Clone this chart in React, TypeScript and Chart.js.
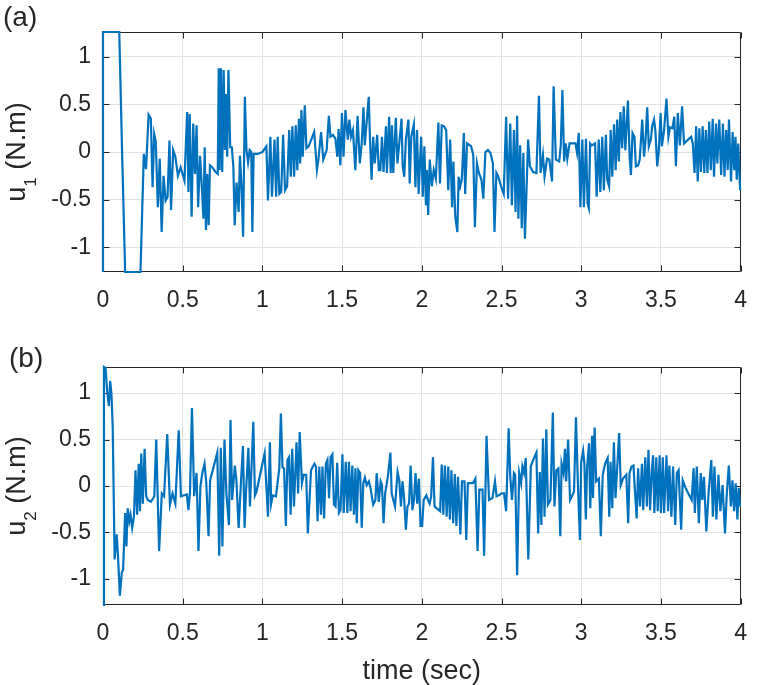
import React, { useEffect, useRef } from "react";
import { Chart, registerables } from "chart.js";

Chart.register(...registerables);

// control torque samples (time in s, torque in N.m)
const u1Time = [
  0, 0, 0.102, 0.119, 0.139, 0.235, 0.256, 0.27, 0.286, 0.3, 0.311, 0.321, 0.331, 0.344, 0.356, 0.368,
  0.38, 0.393, 0.405, 0.417, 0.427, 0.44, 0.454, 0.47, 0.487, 0.511, 0.528, 0.536, 0.544, 0.556, 0.566,
  0.577, 0.587, 0.597, 0.609, 0.62, 0.63, 0.638, 0.646, 0.654, 0.663, 0.671, 0.685, 0.706, 0.72, 0.726,
  0.732, 0.74, 0.748, 0.757, 0.765, 0.771, 0.779, 0.787, 0.798, 0.808, 0.818, 0.826, 0.838, 0.851, 0.859,
  0.869, 0.879, 0.89, 0.9, 0.91, 0.92, 0.93, 0.937, 0.945, 0.97, 1.0, 1.025, 1.035, 1.05, 1.06, 1.076,
  1.086, 1.096, 1.106, 1.118, 1.13, 1.142, 1.155, 1.168, 1.178, 1.188, 1.199, 1.209, 1.219, 1.229, 1.237,
  1.245, 1.253, 1.266, 1.276, 1.29, 1.325, 1.342, 1.352, 1.368, 1.382, 1.403, 1.417, 1.427, 1.443, 1.458,
  1.47, 1.478, 1.489, 1.499, 1.509, 1.521, 1.536, 1.546, 1.556, 1.568, 1.583, 1.597, 1.611, 1.623, 1.634,
  1.642, 1.667, 1.675, 1.685, 1.695, 1.705, 1.72, 1.73, 1.74, 1.75, 1.76, 1.775, 1.781, 1.795, 1.805,
  1.813, 1.821, 1.837, 1.847, 1.873, 1.88, 1.89, 1.9, 1.916, 1.924, 1.934, 1.95, 1.96, 1.97, 1.98, 1.996,
  2.006, 2.016, 2.026, 2.032, 2.04, 2.05, 2.063, 2.075, 2.088, 2.104, 2.114, 2.125, 2.139, 2.153, 2.166,
  2.178, 2.19, 2.198, 2.21, 2.223, 2.231, 2.241, 2.251, 2.264, 2.272, 2.284, 2.309, 2.323, 2.333, 2.346,
  2.358, 2.374, 2.386, 2.399, 2.415, 2.431, 2.446, 2.456, 2.468, 2.48, 2.497, 2.514, 2.529, 2.541, 2.555,
  2.565, 2.578, 2.588, 2.598, 2.606, 2.617, 2.627, 2.637, 2.647, 2.667, 2.678, 2.698, 2.719, 2.735, 2.745,
  2.76, 2.77, 2.786, 2.8, 2.817, 2.827, 2.841, 2.862, 2.872, 2.882, 2.893, 2.903, 2.913, 2.927, 2.964,
  2.974, 2.985, 2.995, 3.007, 3.017, 3.03, 3.04, 3.048, 3.056, 3.066, 3.087, 3.097, 3.11, 3.12, 3.132,
  3.142, 3.155, 3.163, 3.175, 3.185, 3.195, 3.206, 3.216, 3.226, 3.236, 3.246, 3.257, 3.267, 3.277, 3.293,
  3.304, 3.312, 3.322, 3.334, 3.343, 3.357, 3.367, 3.383, 3.394, 3.404, 3.414, 3.424, 3.437, 3.445, 3.457,
  3.465, 3.477, 3.486, 3.498, 3.506, 3.52, 3.535, 3.547, 3.557, 3.572, 3.584, 3.594, 3.606, 3.619, 3.633,
  3.645, 3.67, 3.69, 3.7, 3.711, 3.721, 3.731, 3.741, 3.751, 3.762, 3.772, 3.782, 3.792, 3.803, 3.813,
  3.825, 3.833, 3.846, 3.854, 3.866, 3.878, 3.889, 3.899, 3.909, 3.919, 3.927, 3.94, 3.95, 3.96, 3.968,
  3.976, 3.985, 3.997,
];
const u1Torque = [
  -1.26, 1.26, 1.26, 0.05, -1.26, -1.26, -0.02, -0.18, 0.39, 0.35, -0.37, 0.19, 0.11, -0.58, -0.07, -0.84,
  -0.25, -0.51, -0.47, 0.12, -0.61, 0.02, -0.05, -0.25, -0.16, -0.3, 0.42, -0.42, 0.4, -0.68, 0.3,
  -0.23, 0.28, -0.58, -0.04, -0.37, -0.7, 0.05, -0.82, -0.23, -0.77, -0.14, -0.16, -0.21, -0.23, 0.88,
  -0.19, 0.88, -0.21, 0.86, 0.02, 0.61, -0.05, 0.86, 0.05, 0.05, -0.16, -0.77, -0.32, -0.63, -0.04,
  -0.37, -0.89, 0.58, 0.02, -0.11, 0.02, 0.0, -0.84, -0.02, -0.02, 0.0, 0.06, -0.51, 0.16, -0.47, 0.13,
  -0.47, 0.16, -0.44, -0.42, 0.18, -0.4, -0.36, 0.23, -0.26, 0.27, -0.26, 0.28, -0.19, 0.35, -0.12,
  0.44, -0.05, 0.49, 0.04, 0.06, 0.21, -0.19, -0.07, 0.21, -0.08, 0.02, 0.38, 0.16, 0.18, 0.14,
  -0.05, 0.24, -0.14, 0.41, -0.05, 0.44, 0.13, 0.34, 0.16, 0.23, -0.19, 0.38, -0.12, 0.09, 0.47,
  0.07, 0.58, 0.13, -0.29, 0.16, -0.12, 0.18, -0.19, -0.19, 0.16, -0.21, 0.27, -0.22, 0.37, -0.22,
  0.28, -0.22, 0.36, -0.12, 0.35, -0.15, -0.26, 0.13, 0.34, -0.33, 0.16, 0.29, -0.37, 0.23, -0.44, 0.16,
  -0.47, 0.06, -0.56, -0.19, -0.66, -0.08, -0.36, -0.19, -0.28, 0.31, -0.33, 0.28, 0.27, 0.23, -0.4,
  0.13, -0.58, -0.1, -0.68, -0.84, -0.26, -0.36, -0.29, 0.2, -0.44, 0.09, 0.06, -0.03, -0.79, -0.12,
  -0.22, -0.29, -0.49, 0.0, 0.02, -0.01, -0.12, -0.84, -0.22, -0.26, -0.36, -0.44, 0.37, -0.49, 0.3,
  -0.56, 0.23, -0.63, 0.38, -0.7, 0.07, -0.8, -0.01, -0.91, 0.13, -0.15, -0.21, -0.22, 0.59, -0.22,
  -0.03, -0.26, -0.07, -0.08, -0.31, 0.69, -0.08, -0.1, 0.07, 0.65, -0.1, 0.09, -0.07, 0.09, 0.09,
  -0.01, 0.2, -0.58, 0.13, -0.58, 0.14, -0.54, -0.59, 0.09, 0.07, 0.09, -0.47, 0.13, -0.42, 0.16,
  -0.4, 0.18, -0.29, -0.36, 0.23, -0.26, 0.29, -0.19, 0.34, -0.1, 0.42, 0.04, 0.48, 0.02, 0.54,
  -0.05, -0.24, 0.2, 0.16, -0.15, -0.14, -0.08, 0.34, -0.05, 0.13, 0.47, 0.06, 0.13, 0.27, 0.34,
  0.23, -0.15, -0.01, 0.41, 0.06, 0.23, 0.56, 0.16, 0.26, 0.25, 0.37, -0.15, 0.41, 0.07, 0.48,
  0.09, 0.13, 0.16, 0.09, -0.22, 0.27, -0.31, 0.25, -0.21, 0.27, -0.22, 0.23, -0.22, 0.32, -0.19,
  0.35, -0.26, 0.3, -0.12, 0.34, -0.24, 0.3, -0.26, 0.23, -0.19, 0.34, -0.31, 0.21, -0.19, 0.16,
  -0.29, 0.09, -0.4,
];

const u2Time = [
  0, 0.006, 0.016, 0.026, 0.037, 0.045, 0.053, 0.061, 0.073, 0.086, 0.094, 0.106, 0.118, 0.126, 0.139,
  0.147, 0.155, 0.165, 0.173, 0.183, 0.194, 0.204, 0.214, 0.224, 0.232, 0.24, 0.25, 0.261, 0.271, 0.281,
  0.301, 0.322, 0.334, 0.352, 0.369, 0.383, 0.403, 0.42, 0.436, 0.454, 0.475, 0.489, 0.526, 0.536, 0.546,
  0.558, 0.572, 0.587, 0.599, 0.611, 0.623, 0.637, 0.648, 0.662, 0.672, 0.717, 0.729, 0.739, 0.749, 0.762,
  0.774, 0.79, 0.8, 0.81, 0.827, 0.837, 0.851, 0.866, 0.878, 0.888, 0.898, 0.912, 0.922, 0.943, 0.953,
  0.963, 1.014, 1.035, 1.047, 1.055, 1.065, 1.085, 1.106, 1.116, 1.126, 1.136, 1.147, 1.157, 1.167, 1.177,
  1.187, 1.198, 1.214, 1.224, 1.234, 1.248, 1.259, 1.275, 1.285, 1.305, 1.326, 1.336, 1.346, 1.357, 1.367,
  1.377, 1.387, 1.398, 1.408, 1.418, 1.428, 1.439, 1.449, 1.459, 1.469, 1.48, 1.49, 1.502, 1.51, 1.523,
  1.533, 1.543, 1.553, 1.564, 1.574, 1.584, 1.592, 1.602, 1.613, 1.623, 1.633, 1.643, 1.654, 1.668, 1.678,
  1.695, 1.709, 1.717, 1.73, 1.742, 1.75, 1.76, 1.77, 1.787, 1.803, 1.811, 1.824, 1.832, 1.848, 1.859,
  1.869, 1.879, 1.889, 1.9, 1.91, 1.92, 1.93, 1.941, 1.951, 1.961, 1.971, 1.982, 1.992, 2.002, 2.012,
  2.029, 2.039, 2.049, 2.059, 2.07, 2.08, 2.094, 2.115, 2.125, 2.135, 2.145, 2.156, 2.166, 2.176, 2.186,
  2.197, 2.207, 2.217, 2.227, 2.242, 2.252, 2.268, 2.279, 2.289, 2.32, 2.336, 2.35, 2.361, 2.381, 2.391,
  2.406, 2.422, 2.443, 2.459, 2.469, 2.484, 2.5, 2.516, 2.529, 2.545, 2.555, 2.566, 2.578, 2.586, 2.598,
  2.611, 2.623, 2.631, 2.641, 2.652, 2.668, 2.684, 2.699, 2.719, 2.73, 2.74, 2.75, 2.76, 2.77, 2.781,
  2.791, 2.807, 2.822, 2.832, 2.844, 2.857, 2.869, 2.877, 2.889, 2.898, 2.906, 2.918, 2.93, 2.945, 2.955,
  2.967, 2.98, 2.992, 3.0, 3.012, 3.02, 3.029, 3.037, 3.049, 3.057, 3.068, 3.074, 3.084, 3.094, 3.111,
  3.123, 3.135, 3.15, 3.166, 3.176, 3.184, 3.195, 3.205, 3.215, 3.238, 3.248, 3.262, 3.283, 3.295, 3.303,
  3.316, 3.328, 3.336, 3.348, 3.357, 3.369, 3.381, 3.389, 3.402, 3.412, 3.422, 3.432, 3.443, 3.451, 3.459,
  3.471, 3.48, 3.492, 3.5, 3.512, 3.52, 3.535, 3.545, 3.553, 3.566, 3.576, 3.59, 3.6, 3.611, 3.627,
  3.637, 3.652, 3.672, 3.693, 3.705, 3.713, 3.725, 3.738, 3.75, 3.76, 3.77, 3.785, 3.799, 3.816, 3.826,
  3.836, 3.848, 3.861, 3.873, 3.887, 3.902, 3.914, 3.926, 3.939, 3.949, 3.959, 3.969, 3.98, 3.988, 3.996,
];
const u2Torque = [
  -1.28, 1.28, 1.27, 1.02, 0.86, 1.13, 0.99, 0.63, -0.79, -0.52, -0.75, -1.18, -0.93, -0.9, -0.29,
  -0.65, -0.24, -0.38, -0.31, -0.45, -0.33, 0.17, -0.31, 0.24, -0.27, 0.35, -0.19, 0.4, -0.11, -0.15,
  -0.17, -0.11, 0.5, -0.7, -0.08, -0.11, 0.56, -0.2, -0.08, -0.19, 0.6, -0.11, -0.09, -0.26, -0.06,
  0.84, -0.11, 0.14, -0.7, -0.01, 0.14, 0.24, 0.03, -0.54, 0.06, 0.36, -0.75, 0.41, -0.65, 0.5,
  -0.08, -0.42, 0.71, -0.15, 0.22, 0.06, -0.45, 0.06, 0.43, -0.45, -0.04, 0.41, -0.22, 0.69, -0.1,
  -0.06, 0.35, -0.33, 0.47, -0.19, -0.1, -0.11, 0.19, 0.78, 0.2, 0.19, -0.43, 0.28, 0.31, -0.31,
  0.4, -0.22, 0.47, -0.08, 0.58, 0.03, 0.12, 0.12, -0.51, 0.17, 0.24, 0.21, -0.38, 0.21, -0.31,
  0.21, -0.35, 0.24, 0.28, -0.13, 0.31, 0.34, -0.2, -0.22, 0.25, -0.29, -0.26, 0.34, -0.29, 0.26,
  -0.29, 0.26, -0.27, 0.22, -0.31, 0.19, -0.4, 0.17, 0.14, -0.45, 0.03, 0.09, 0.01, 0.05, -0.02,
  -0.2, -0.15, 0.14, -0.17, 0.05, 0.01, -0.4, -0.08, 0.1, 0.36, -0.08, -0.17, -0.22, 0.15, 0.06,
  -0.22, 0.05, -0.13, -0.47, -0.22, -0.19, 0.22, -0.26, -0.15, 0.14, -0.19, 0.08, -0.43, -0.43, -0.15,
  -0.1, -0.15, -0.19, -0.11, 0.31, -0.22, -0.24, -0.27, 0.23, -0.31, 0.22, -0.33, 0.21, -0.36, 0.17,
  -0.4, 0.13, -0.43, 0.1, -0.52, 0.05, 0.05, -0.58, 0.03, 0.03, 0.08, -0.7, -0.04, -0.04, -0.75,
  0.54, -0.15, -0.13, 0.05, -0.11, -0.1, -0.08, -0.08, -0.27, 0.62, 0.1, -0.15, 0.14, 0.12, -0.96,
  0.14, 0.03, 0.21, 0.14, 0.3, -0.79, 0.21, 0.28, 0.36, -0.51, 0.15, -0.42, 0.51, -0.33, 0.61,
  -0.2, -0.15, 0.79, -0.22, 0.17, 0.19, -0.54, 0.24, 0.14, 0.4, 0.05, 0.5, -0.15, -0.1, -0.06,
  0.74, -0.01, -0.58, 0.26, 0.38, 0.24, -0.36, 0.21, 0.46, -0.24, 0.54, -0.13, 0.63, 0.05, 0.08,
  -0.54, 0.12, 0.24, 0.3, -0.33, 0.26, -0.24, 0.47, -0.13, 0.57, 0.01, 0.08, 0.12, -0.4, 0.14,
  0.21, 0.22, -0.02, -0.35, 0.19, -0.22, 0.24, -0.26, 0.31, -0.22, 0.39, -0.26, 0.17, 0.33, -0.29,
  0.31, -0.27, 0.33, -0.29, 0.31, -0.29, 0.33, -0.27, 0.22, -0.33, 0.21, -0.42, 0.14, 0.17, -0.47,
  0.06, -0.01, -0.08, -0.15, 0.19, -0.29, 0.21, -0.4, 0.14, -0.15, 0.1, -0.49, -0.08, 0.28, -0.33,
  0.21, -0.36, 0.12, -0.27, 0.01, -0.51, -0.06, 0.22, -0.22, 0.06, -0.27, 0.03, -0.36, -0.02, -0.22,
];

const timeTicks = [0, 0.5, 1, 1.5, 2, 2.5, 3, 3.5, 4];
const torqueTicks = [-1, -0.5, 0, 0.5, 1];

const FONT = '"Liberation Sans", Arial, Helvetica, sans-serif';
const INK = "#262626";
const GRID = "#e3e3e3";
const LINE = "#0072BD";

type PanelProps = {
  time: number[];
  torque: number[];
  sub: string;
  tag: string;
  tagX: number;
  tagY: number;
  limit: number;
  top: number;
  height: number;
  plotTop: number;
  plotBottom: number;
  xTitle?: string;
};

const Panel: React.FC<PanelProps> = (p) => {
  const canvasRef = useRef<HTMLCanvasElement | null>(null);

  useEffect(() => {
    if (!canvasRef.current) return;
    const ctx = canvasRef.current.getContext("2d");
    if (!ctx) return;

    // box with inward ticks under the line, text around the axes on top
    const frame = {
      id: "frame",
      beforeDatasetsDraw(chart: any) {
        const c = chart.ctx as CanvasRenderingContext2D;
        const a = chart.chartArea;
        const sx = chart.scales.x;
        const sy = chart.scales.y;
        const L = Math.round(a.left) + 0.5;
        const R = Math.round(a.right) - 0.5;
        const T = Math.round(a.top) + 0.5;
        const B = Math.round(a.bottom) - 0.5;
        c.save();
        c.strokeStyle = INK;
        c.lineWidth = 1;
        c.beginPath();
        c.rect(L, T, R - L, B - T);
        timeTicks.forEach((v) => {
          const x = Math.round(sx.getPixelForValue(v)) + 0.5;
          c.moveTo(x, B);
          c.lineTo(x, B - 6);
          c.moveTo(x, T);
          c.lineTo(x, T + 6);
        });
        torqueTicks.forEach((v) => {
          const y = Math.round(sy.getPixelForValue(v)) + 0.5;
          c.moveTo(L, y);
          c.lineTo(L + 6, y);
          c.moveTo(R, y);
          c.lineTo(R - 6, y);
        });
        c.stroke();
        c.restore();
      },
      afterDraw(chart: any) {
        const c = chart.ctx as CanvasRenderingContext2D;
        const a = chart.chartArea;
        c.save();
        c.fillStyle = INK;
        c.textBaseline = "alphabetic";
        c.textAlign = "left";

        c.font = `28px ${FONT}`;
        c.fillText(p.tag, p.tagX, p.tagY);

        const big = `27px ${FONT}`;
        const small = `17px ${FONT}`;
        const rest = " (N.m)";
        c.font = big;
        const wU = c.measureText("u").width;
        const wRest = c.measureText(rest).width;
        c.font = small;
        const wSub = c.measureText(p.sub).width;
        const x0 = -(wU + wSub + wRest) / 2;
        c.save();
        c.translate(25, (a.top + a.bottom) / 2);
        c.rotate(-Math.PI / 2);
        c.font = big;
        c.fillText("u", x0, 0);
        c.font = small;
        c.fillText(p.sub, x0 + wU, 11);
        c.font = big;
        c.fillText(rest, x0 + wU + wSub, 0);
        c.restore();

        if (p.xTitle) {
          c.font = big;
          c.textAlign = "center";
          c.fillText(p.xTitle, (a.left + a.right) / 2, p.height - 6);
        }
        c.restore();
      },
    };

    const tickFont = { family: FONT, size: 23 };

    const chart = new Chart(ctx, {
      type: "line",
      data: {
        datasets: [
          {
            data: p.time.map((t, i) => ({ x: t, y: p.torque[i] })),
            borderColor: LINE,
            borderWidth: 2.2,
            pointRadius: 0,
            tension: 0,
            fill: false,
            clip: false,
          },
        ],
      },
      options: {
        animation: false,
        responsive: true,
        maintainAspectRatio: false,
        layout: { padding: { left: 0, right: 10, top: p.plotTop, bottom: 0 } },
        plugins: { legend: { display: false }, tooltip: { enabled: false } },
        scales: {
          x: {
            type: "linear",
            min: 0,
            max: 4,
            afterBuildTicks: (s: any) => {
              s.ticks = timeTicks.map((v) => ({ value: v }));
            },
            afterFit: (s: any) => {
              s.height = p.height - p.plotBottom;
            },
            grid: { color: GRID, drawTicks: false },
            border: { display: false },
            ticks: {
              padding: 15,
              font: tickFont,
              color: INK,
              maxRotation: 0,
              autoSkip: false,
              callback: (v: any) => String(v),
            },
          },
          y: {
            min: -p.limit,
            max: p.limit,
            afterBuildTicks: (s: any) => {
              s.ticks = torqueTicks.map((v) => ({ value: v }));
            },
            afterFit: (s: any) => {
              s.width = 103;
            },
            grid: { color: GRID, drawTicks: false },
            border: { display: false },
            ticks: {
              padding: 12,
              font: tickFont,
              color: INK,
              callback: (v: any) => String(v),
            },
          },
        },
      },
      plugins: [frame],
    });

    return () => {
      chart.destroy();
    };
  }, [p]);

  return (
    <div style={{ position: "absolute", left: 0, top: p.top, width: 762, height: p.height }}>
      <canvas ref={canvasRef}></canvas>
    </div>
  );
};

const App: React.FC = () => {
  return (
    <div style={{ position: "absolute", left: 0, top: 0, width: 762, height: 685, background: "#fff" }}>
      <Panel
        time={u1Time}
        torque={u1Torque}
        sub="1"
        tag="(a)"
        tagX={3}
        tagY={26}
        limit={1.26}
        top={0}
        height={330}
        plotTop={32}
        plotBottom={272}
      />
      <Panel
        time={u2Time}
        torque={u2Torque}
        sub="2"
        tag="(b)"
        tagX={9}
        tagY={37}
        limit={1.28}
        top={330}
        height={355}
        plotTop={37}
        plotBottom={275}
        xTitle="time (sec)"
      />
    </div>
  );
};

export default App;
